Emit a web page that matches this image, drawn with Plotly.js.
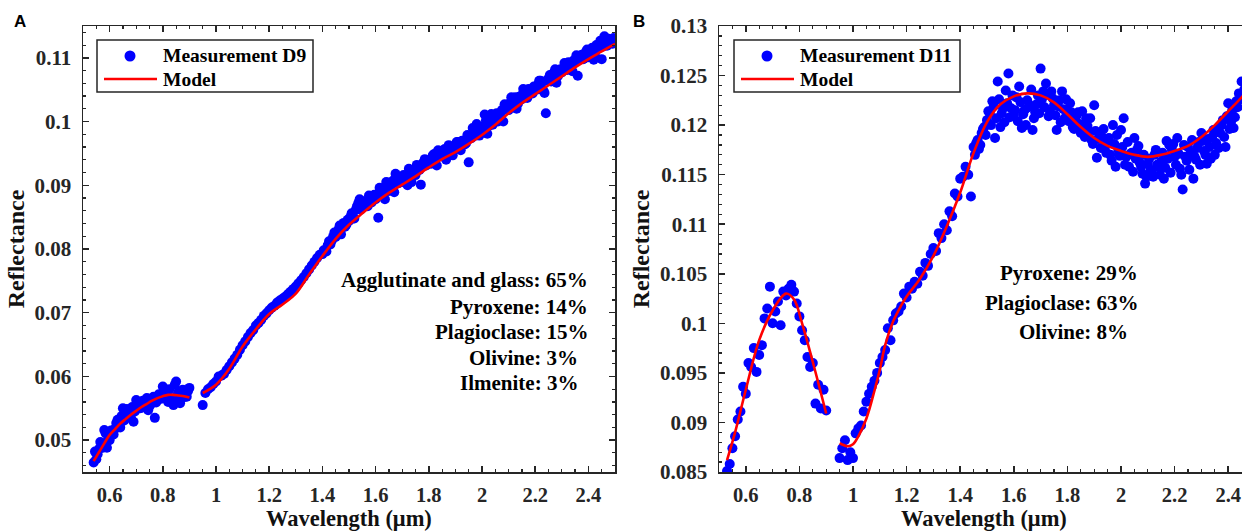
<!DOCTYPE html>
<html><head><meta charset="utf-8">
<script src="https://cdn.plot.ly/plotly-3.0.1.min.js"></script>
<style>html,body{margin:0;padding:0;background:#fff;overflow:hidden}#chart{width:1242px;height:532px}</style>
</head><body><div id="chart"></div>
<script>
// ---------- Panel A (D9) ----------
const wavelengthA1 = [0.54,0.55,0.56,0.57,0.58,0.59,0.60,0.61,0.62,0.63,0.64,0.65,0.66,0.67,0.68,0.69,0.70,0.71,0.72,0.73,0.74,0.75,0.76,0.77,0.78,0.79,0.80,0.81,0.82,0.83,0.84,0.85,0.86,0.87,0.88,0.89,0.90];
const reflectanceA1 = [0.0465,0.0470,0.0486,0.0490,0.0516,0.0488,0.0500,0.0508,0.0518,0.0532,0.0520,0.0550,0.0538,0.0545,0.0535,0.0529,0.0563,0.0555,0.0551,0.0558,0.0566,0.0553,0.0558,0.0535,0.0563,0.0570,0.0584,0.0576,0.0560,0.0566,0.0555,0.0592,0.0576,0.0565,0.0574,0.0568,0.0582];
const wavelengthA1b = [0.545,0.555,0.565,0.575,0.585,0.595,0.605,0.615,0.625,0.635,0.645,0.655,0.665,0.675,0.685,0.695,0.705,0.715,0.725,0.735,0.745,0.755,0.765,0.775,0.785,0.795,0.805,0.815,0.825,0.835,0.845,0.855,0.865,0.875,0.885,0.895];
const reflectanceA1b = [0.0482,0.0478,0.0497,0.0488,0.0511,0.0503,0.0515,0.0509,0.0527,0.0522,0.0538,0.0531,0.0549,0.0540,0.0552,0.0545,0.0558,0.0550,0.0562,0.0556,0.0547,0.0561,0.0568,0.0559,0.0572,0.0565,0.0577,0.0569,0.0580,0.0563,0.0587,0.0571,0.0558,0.0579,0.0568,0.0577];
const wavelength2 = [0.95,0.96,0.97,0.98,0.99,
 1.00,1.01,1.02,1.03,1.04,1.05,1.06,1.07,1.08,1.09,
 1.10,1.11,1.12,1.13,1.14,1.15,1.16,1.17,1.18,1.19,
 1.20,1.21,1.22,1.23,1.24,1.25,1.26,1.27,1.28,1.29,
 1.30,1.31,1.32,1.33,1.34,1.35,1.36,1.37,1.38,1.39,
 1.40,1.41,1.42,1.43,1.44,1.45,1.46,1.47,1.48,1.49,
 1.50,1.51,1.52,1.53,1.54,1.55,1.56,1.57,1.58,1.59,
 1.60,1.61,1.62,1.63,1.64,1.65,1.66,1.67,1.68,1.69,
 1.70,1.71,1.72,1.73,1.74,1.75,1.76,1.77,1.78,1.79,
 1.80,1.81,1.82,1.83,1.84,1.85,1.86,1.87,1.88,1.89,
 1.90,1.91,1.92,1.93,1.94,1.95,1.96,1.97,1.98,1.99,
 2.00,2.01,2.02,2.03,2.04,2.05,2.06,2.07,2.08,2.09,
 2.10,2.11,2.12,2.13,2.14,2.15,2.16,2.17,2.18,2.19,
 2.20,2.21,2.22,2.23,2.24,2.25,2.26,2.27,2.28,2.29,
 2.30,2.31,2.32,2.33,2.34,2.35,2.36,2.37,2.38,2.39,
 2.40,2.41,2.42,2.43,2.44,2.45,2.46,2.47,2.48,2.49,
 2.50];
const reflectanceA2 = [0.0555,0.0574,0.0580,0.0583,0.0588,
 0.0592,0.0600,0.0601,0.0604,0.0610,0.0616,0.0622,0.0628,0.0634,0.0642,
 0.0649,0.0655,0.0662,0.0668,0.0673,0.0680,0.0684,0.0689,0.0695,0.0699,
 0.0704,0.0708,0.0711,0.0716,0.0719,0.0722,0.0725,0.0729,0.0733,0.0737,
 0.0741,0.0746,0.0751,0.0756,0.0762,0.0768,0.0774,0.0780,0.0786,0.0791,
 0.0792,0.0797,0.0806,0.0807,0.0819,0.0819,0.0830,0.0823,0.0841,0.0838,
 0.0844,0.0856,0.0848,0.0867,0.0878,0.0865,0.0875,0.0867,0.0878,0.0878,
 0.0878,0.0849,0.0895,0.0889,0.0905,0.0891,0.0903,0.0889,0.0905,0.0912,
 0.0905,0.0914,0.0900,0.0924,0.0919,0.0916,0.0929,0.0901,0.0936,0.0931,
 0.0938,0.0934,0.0949,0.0931,0.0950,0.0948,0.0957,0.0946,0.0957,0.0947,
 0.0960,0.0968,0.0955,0.0970,0.0966,0.0936,0.0974,0.0982,0.0996,0.0978,
 0.0986,0.1011,0.0981,0.1001,0.0995,0.1010,0.1000,0.1013,0.1000,0.1024,
 0.1018,0.1038,0.1028,0.1020,0.1039,0.1035,0.1047,0.1037,0.1048,0.1044,
 0.1051,0.1058,0.1064,0.1049,0.1013,0.1067,0.1063,0.1077,0.1061,0.1080,
 0.1077,0.1092,0.1081,0.1092,0.1079,0.1094,0.1072,0.1101,0.1098,0.1109,
 0.1101,0.1112,0.1097,0.1120,0.1116,0.1098,0.1134,0.1119,0.1128,0.1122,
 0.1123];
const wavelength2b = [1.405,1.415,1.425,1.435,1.445,1.455,1.465,1.475,1.485,1.495,
 1.505,1.515,1.525,1.535,1.545,1.555,1.565,1.575,1.585,1.595,
 1.605,1.615,1.625,1.635,1.645,1.655,1.665,1.675,1.685,1.695,
 1.705,1.715,1.725,1.735,1.745,1.755,1.765,1.775,1.785,1.795,
 1.805,1.815,1.825,1.835,1.845,1.855,1.865,1.875,1.885,1.895,
 1.905,1.915,1.925,1.935,1.945,1.955,1.965,1.975,1.985,1.995,
 2.005,2.015,2.025,2.035,2.045,2.055,2.065,2.075,2.085,2.095,
 2.105,2.115,2.125,2.135,2.145,2.155,2.165,2.175,2.185,2.195,
 2.205,2.215,2.225,2.235,2.245,2.255,2.265,2.275,2.285,2.295,
 2.305,2.315,2.325,2.335,2.345,2.355,2.365,2.375,2.385,2.395,
 2.405,2.415,2.425,2.435,2.445,2.455,2.465,2.475,2.485,2.495];
const reflectanceA2b = [0.0798,0.0796,0.0812,0.0813,0.0826,0.0823,0.0837,0.0834,0.0835,0.0846,
 0.0850,0.0848,0.0861,0.0872,0.0862,0.0874,0.0873,0.0884,0.0873,0.0885,
 0.0884,0.0896,0.0893,0.0878,0.0904,0.0898,0.0907,0.0918,0.0903,0.0911,
 0.0916,0.0912,0.0926,0.0905,0.0924,0.0932,0.0924,0.0930,0.0941,0.0939,
 0.0934,0.0947,0.0944,0.0955,0.0946,0.0955,0.0940,0.0963,0.0959,0.0958,
 0.0968,0.0961,0.0970,0.0964,0.0979,0.0976,0.0990,0.0978,0.0988,0.0986,
 0.0993,0.1002,0.0993,0.1012,0.1003,0.1013,0.1005,0.1018,0.1027,0.1019,
 0.1029,0.1026,0.1038,0.1028,0.1040,0.1051,0.1040,0.1051,0.1048,0.1055,
 0.1050,0.1064,0.1061,0.1045,0.1065,0.1073,0.1069,0.1082,0.1071,0.1082,
 0.1083,0.1082,0.1093,0.1084,0.1096,0.1104,0.1097,0.1105,0.1099,0.1113,
 0.1108,0.1116,0.1108,0.1118,0.1127,0.1118,0.1127,0.1130,0.1125,0.1131];
const modelWavelengthA = [0.54,0.56,0.58,0.60,0.62,0.64,0.66,0.68,0.70,0.72,0.74,0.76,0.78,0.80,0.82,0.84,0.86,0.88,0.90,null,
 0.95,1.00,1.05,1.10,1.15,1.20,1.25,1.30,1.35,1.40,1.45,1.50,1.55,1.60,1.65,1.70,1.75,1.80,1.85,1.90,1.95,2.00,2.05,2.10,2.15,2.20,2.25,2.30,2.35,2.40,2.45,2.50];
const modelReflectanceA = [0.0467,0.0481,0.0495,0.0508,0.0517,0.0526,0.0533,0.0540,0.0546,0.0552,0.0557,0.0562,0.0566,0.0569,0.0571,0.0571,0.0570,0.0569,0.0567,null,
 0.0574,0.0587,0.0612,0.0647,0.0674,0.0698,0.0713,0.0730,0.0760,0.0789,0.0816,0.0838,0.0856,0.0873,0.0888,0.0901,0.0914,0.0928,0.0941,0.0952,0.0965,0.0979,0.0995,0.1013,0.1029,0.1043,0.1057,0.1071,0.1085,0.1098,0.1110,0.1122];
const legendA = ['Measurement D9','Model'];
const compositionA = ['Agglutinate and glass: 65%','Pyroxene: 14%','Plagioclase: 15%','Olivine: 3%','Ilmenite: 3%'];

// ---------- Panel B (D11) ----------
const wavelengthB1 = [0.53,0.54,0.55,0.56,0.57,0.58,0.59,0.60,0.61,0.62,0.63,0.64,0.65,0.66,0.67,0.68,0.69,0.70,0.71,0.72,0.73,0.74,0.75,0.76,0.77,0.78,0.79,0.80,0.81,0.82,0.83,0.84,0.85,0.86,0.87,0.88,0.89,0.90];
const reflectanceB1 = [0.0851,0.0858,0.0874,0.0886,0.0903,0.0911,0.0936,0.0929,0.0960,0.0956,0.0975,0.0951,0.0968,0.0978,0.1005,0.1015,0.1037,0.1000,0.1012,0.1022,0.0998,0.1032,0.1028,0.1035,0.1039,0.1032,0.1020,0.1007,0.0993,0.0983,0.0966,0.0956,0.0960,0.0919,0.0938,0.0914,0.0933,0.0912];
const reflectanceB2 = [0.0864,0.0874,0.0882,0.0862,0.0870,
 0.0864,0.0889,0.0894,0.0897,0.0911,0.0921,0.0929,0.0936,0.0942,0.0950,
 0.0960,0.0966,0.0973,0.0995,0.0983,0.1003,0.1010,0.1012,0.1017,0.1030,
 0.1026,0.1037,0.1035,0.1042,0.1040,0.1052,0.1048,0.1061,0.1058,0.1070,
 0.1076,0.1073,0.1091,0.1086,0.1100,0.1094,0.1113,0.1108,0.1131,0.1128,
 0.1146,0.1148,0.1158,0.1150,0.1128,0.1178,0.1182,0.1176,0.1192,0.1198,
 0.1205,0.1212,0.1224,0.1187,0.1244,0.1198,0.1217,0.1235,0.1252,0.1217,
 0.1210,0.1228,0.1239,0.1197,0.1215,0.1225,0.1220,0.1195,0.1213,0.1230,
 0.1257,0.1234,0.1242,0.1209,0.1234,0.1220,0.1195,0.1225,0.1234,0.1207,
 0.1215,0.1222,0.1198,0.1205,0.1213,0.1192,0.1200,0.1207,0.1194,0.1185,
 0.1220,0.1167,0.1192,0.1188,0.1178,0.1184,0.1170,0.1200,0.1158,0.1175,
 0.1195,0.1207,0.1168,0.1158,0.1172,0.1187,0.1175,0.1162,0.1151,0.1141,
 0.1161,0.1155,0.1148,0.1175,0.1158,0.1163,0.1146,0.1184,0.1180,0.1175,
 0.1168,0.1187,0.1156,0.1135,0.1168,0.1178,0.1172,0.1146,0.1165,0.1183,
 0.1192,0.1174,0.1161,0.1178,0.1188,0.1170,0.1196,0.1192,0.1205,0.1178,
 0.1222,0.1203,0.1197,0.1224,0.1232,0.1244,0.1236,0.1240,0.1248,0.1243,
 0.1252];
const wavelengthB2b = [1.455,1.465,1.475,1.485,1.495,
 1.505,1.515,1.525,1.535,1.545,1.555,1.565,1.575,1.585,1.595,
 1.605,1.615,1.625,1.635,1.645,1.655,1.665,1.675,1.685,1.695,
 1.705,1.715,1.725,1.735,1.745,1.755,1.765,1.775,1.785,1.795,
 1.805,1.815,1.825,1.835,1.845,1.855,1.865,1.875,1.885,1.895,
 1.905,1.915,1.925,1.935,1.945,1.955,1.965,1.975,1.985,1.995,
 2.005,2.015,2.025,2.035,2.045,2.055,2.065,2.075,2.085,2.095,
 2.105,2.115,2.125,2.135,2.145,2.155,2.165,2.175,2.185,2.195,
 2.205,2.215,2.225,2.235,2.245,2.255,2.265,2.275,2.285,2.295,
 2.305,2.315,2.325,2.335,2.345,2.355,2.365,2.375,2.385,2.395,
 2.405,2.415,2.425,2.435,2.445];
const reflectanceB2b = [0.1170,0.1185,0.1180,0.1196,0.1190,
 0.1214,0.1200,0.1219,0.1207,0.1226,0.1212,0.1203,0.1222,0.1208,0.1230,
 0.1215,0.1204,0.1223,0.1211,0.1200,0.1218,0.1236,0.1207,0.1221,0.1212,
 0.1226,0.1218,0.1231,0.1214,0.1227,0.1210,0.1219,0.1203,0.1216,0.1226,
 0.1204,0.1213,0.1196,0.1210,0.1201,0.1214,0.1188,0.1199,0.1207,0.1181,
 0.1194,0.1186,0.1177,0.1196,0.1172,0.1187,0.1164,0.1181,0.1190,0.1169,
 0.1178,0.1160,0.1183,0.1171,0.1153,0.1166,0.1179,0.1158,0.1170,0.1148,
 0.1166,0.1152,0.1170,0.1160,0.1150,0.1172,0.1157,0.1166,0.1152,0.1181,
 0.1160,0.1171,0.1150,0.1180,0.1164,0.1155,0.1185,0.1168,0.1177,0.1160,
 0.1184,0.1170,0.1186,0.1166,0.1195,0.1182,0.1177,0.1200,0.1188,0.1209,
 0.1196,0.1215,0.1208,0.1218,0.1226];
const modelWavelengthB = [0.53,0.56,0.60,0.65,0.70,0.75,0.78,0.81,0.85,0.90,null,
 0.95,0.98,1.00,1.02,1.05,1.08,1.10,1.12,1.15,1.18,1.20,1.25,1.30,1.35,1.40,1.45,1.50,1.55,1.60,1.65,1.70,1.75,1.80,1.85,1.90,1.95,2.00,2.05,2.10,2.15,2.20,2.25,2.30,2.35,2.40,2.45,2.50];
const modelReflectanceB = [0.0862,0.0890,0.0933,0.0983,0.1013,0.1030,0.1024,0.1000,0.0961,0.0909,null,
 0.0879,0.0876,0.0878,0.0886,0.0904,0.0932,0.0953,0.0978,0.1002,0.1018,0.1027,0.1045,0.1068,0.1098,0.1132,0.1172,0.1203,0.1221,0.1229,0.1232,0.1230,0.1223,0.1211,0.1198,0.1187,0.1179,0.1174,0.1170,0.1168,0.1170,0.1174,0.1179,0.1188,0.1200,0.1214,0.1228,0.1245];
const legendB = ['Measurement D11','Model'];
const compositionB = ['Pyroxene: 29%','Plagioclase: 63%','Olivine: 8%'];
const axisTitleX = 'Wavelength (μm)';
const axisTitleY = 'Reflectance';

// ---------- Drawing ----------
const serif = 'Liberation Serif, Times New Roman, serif';
const dark = '#262626';
const BLUE = '#0000ff', RED = '#ff0000';
const traces = [
  {x: wavelengthA1.concat(wavelengthA1b, wavelength2, wavelength2b), y: reflectanceA1.concat(reflectanceA1b, reflectanceA2, reflectanceA2b),
   xaxis:'x', yaxis:'y', type:'scatter', mode:'markers', name:legendA[0], marker:{color:BLUE, size:10}},
  {x: modelWavelengthA, y: modelReflectanceA, xaxis:'x', yaxis:'y', type:'scatter', mode:'lines', connectgaps:false,
   name:legendA[1], line:{color:RED, width:2.6, shape:'spline'}},
  {x: wavelengthB1.concat(wavelength2, wavelengthB2b), y: reflectanceB1.concat(reflectanceB2, reflectanceB2b),
   xaxis:'x2', yaxis:'y2', type:'scatter', mode:'markers', name:legendB[0], marker:{color:BLUE, size:10}},
  {x: modelWavelengthB, y: modelReflectanceB, xaxis:'x2', yaxis:'y2', type:'scatter', mode:'lines', connectgaps:false,
   name:legendB[1], line:{color:RED, width:2.6, shape:'spline'}}
];

const tickFont = {family:serif, size:21, color:dark, weight:'bold'};
const xTickFont = {family:serif, size:20.5, color:dark, weight:'bold'};
const titleFont = {family:serif, size:24, color:'#111', weight:'bold'};
const xTitleFont = {family:serif, size:22.5, color:'#111', weight:'bold'};
function axis(extra){
  return Object.assign({
    showline:true, linecolor:dark, linewidth:1.5, mirror:'ticks',
    ticks:'inside', ticklen:6, tickwidth:1.5, tickcolor:dark,
    showgrid:false, zeroline:false, tickfont:tickFont, tick0:0
  }, extra);
}

const L = 83, PW = 1159, T = 26, PH = 446;
const px = v => (v - L) / PW;
const py = v => (T + PH - v) / PH;

const annotations = [];
const shapes = [];
const annFont = {family:serif, size:21, color:'#000', weight:'bold'};
const aRight = [590, 590, 590, 580, 580];
const aY = [280, 306.7, 331.7, 358, 382.7];
compositionA.forEach((t,i)=>annotations.push({text:t, xref:'paper', yref:'paper', x:px(aRight[i]), y:py(aY[i]),
  xanchor:'right', yanchor:'middle', showarrow:false, font:annFont}));
const bRight = [1140, 1140, 1130];
const bY = [273, 303, 331.7];
compositionB.forEach((t,i)=>annotations.push({text:t, xref:'paper', yref:'paper', x:px(bRight[i]), y:py(bY[i]),
  xanchor:'right', yanchor:'middle', showarrow:false, font:annFont}));
const labelFont = {family:'Liberation Sans, Arial, sans-serif', size:17, color:'#000', weight:'bold'};
annotations.push({text:'A', xref:'paper', yref:'paper', x:px(20), y:py(21), xanchor:'center', yanchor:'middle', showarrow:false, font:labelFont});
annotations.push({text:'B', xref:'paper', yref:'paper', x:px(639), y:py(21), xanchor:'center', yanchor:'middle', showarrow:false, font:labelFont});
[349, 984].forEach(cx=>annotations.push({text:axisTitleX, xref:'paper', yref:'paper', x:px(cx), y:py(531.5),
  xanchor:'center', yanchor:'bottom', showarrow:false, font:xTitleFont, borderpad:0}));

// legend boxes (one per panel)
function legendBox(left, right, labels){
  shapes.push({type:'rect', xref:'paper', yref:'paper', x0:px(left), x1:px(right), y0:py(92), y1:py(40),
    line:{color:dark, width:1.5}, fillcolor:'#ffffff', layer:'above'});
  shapes.push({type:'circle', xref:'paper', yref:'paper', xsizemode:'pixel', ysizemode:'pixel',
    xanchor:px(left+33), yanchor:py(56), x0:-5.5, x1:5.5, y0:-5.5, y1:5.5,
    fillcolor:BLUE, line:{width:0}, layer:'above'});
  shapes.push({type:'line', xref:'paper', yref:'paper', x0:px(left+7), x1:px(left+60), y0:py(79), y1:py(79),
    line:{color:RED, width:2.6}, layer:'above'});
  const lf = {family:serif, size:19.5, color:'#000', weight:'bold'};
  annotations.push({text:labels[0], xref:'paper', yref:'paper', x:px(left+64), y:py(56), xanchor:'left', yanchor:'middle', showarrow:false, font:lf});
  annotations.push({text:labels[1], xref:'paper', yref:'paper', x:px(left+64), y:py(79), xanchor:'left', yanchor:'middle', showarrow:false, font:lf});
}
legendBox(97, 313, legendA);
legendBox(734, 960, legendB);

const layout = {
  width:1242, height:532,
  margin:{l:L, r:0, t:T, b:532-T-PH},
  paper_bgcolor:'#fff', plot_bgcolor:'#fff',
  showlegend:false,
  xaxis: axis({domain:[0, px(615)], range:[0.5,2.5], dtick:0.2, anchor:'y', tickfont:xTickFont,
    minor:{ticks:'inside', ticklen:3, tickwidth:1.2, tickcolor:dark, dtick:0.05, showgrid:false},
    ticklabelstandoff:4}),
  yaxis: axis({domain:[0,1], range:[0.045,0.115], dtick:0.01, anchor:'x',
    minor:{ticks:'inside', ticklen:3, tickwidth:1.2, tickcolor:dark, dtick:0.002, showgrid:false},
    title:{text:axisTitleY, font:titleFont, standoff:3}, ticklabelstandoff:6}),
  xaxis2: axis({domain:[px(719), 1], range:[0.5,2.4515], dtick:0.2, anchor:'y2', tickfont:xTickFont,
    minor:{ticks:'inside', ticklen:3, tickwidth:1.2, tickcolor:dark, dtick:0.05, showgrid:false},
    ticklabelstandoff:4}),
  yaxis2: axis({domain:[0,1], range:[0.085,0.13], dtick:0.005, anchor:'x2', mirror:false,
    minor:{ticks:'inside', ticklen:3, tickwidth:1.2, tickcolor:dark, dtick:0.001, showgrid:false},
    title:{text:axisTitleY, font:titleFont, standoff:3}, ticklabelstandoff:6}),
  shapes: shapes,
  annotations: annotations
};

Plotly.newPlot('chart', traces, layout, {displayModeBar:false, staticPlot:true});
</script>
</body></html>
